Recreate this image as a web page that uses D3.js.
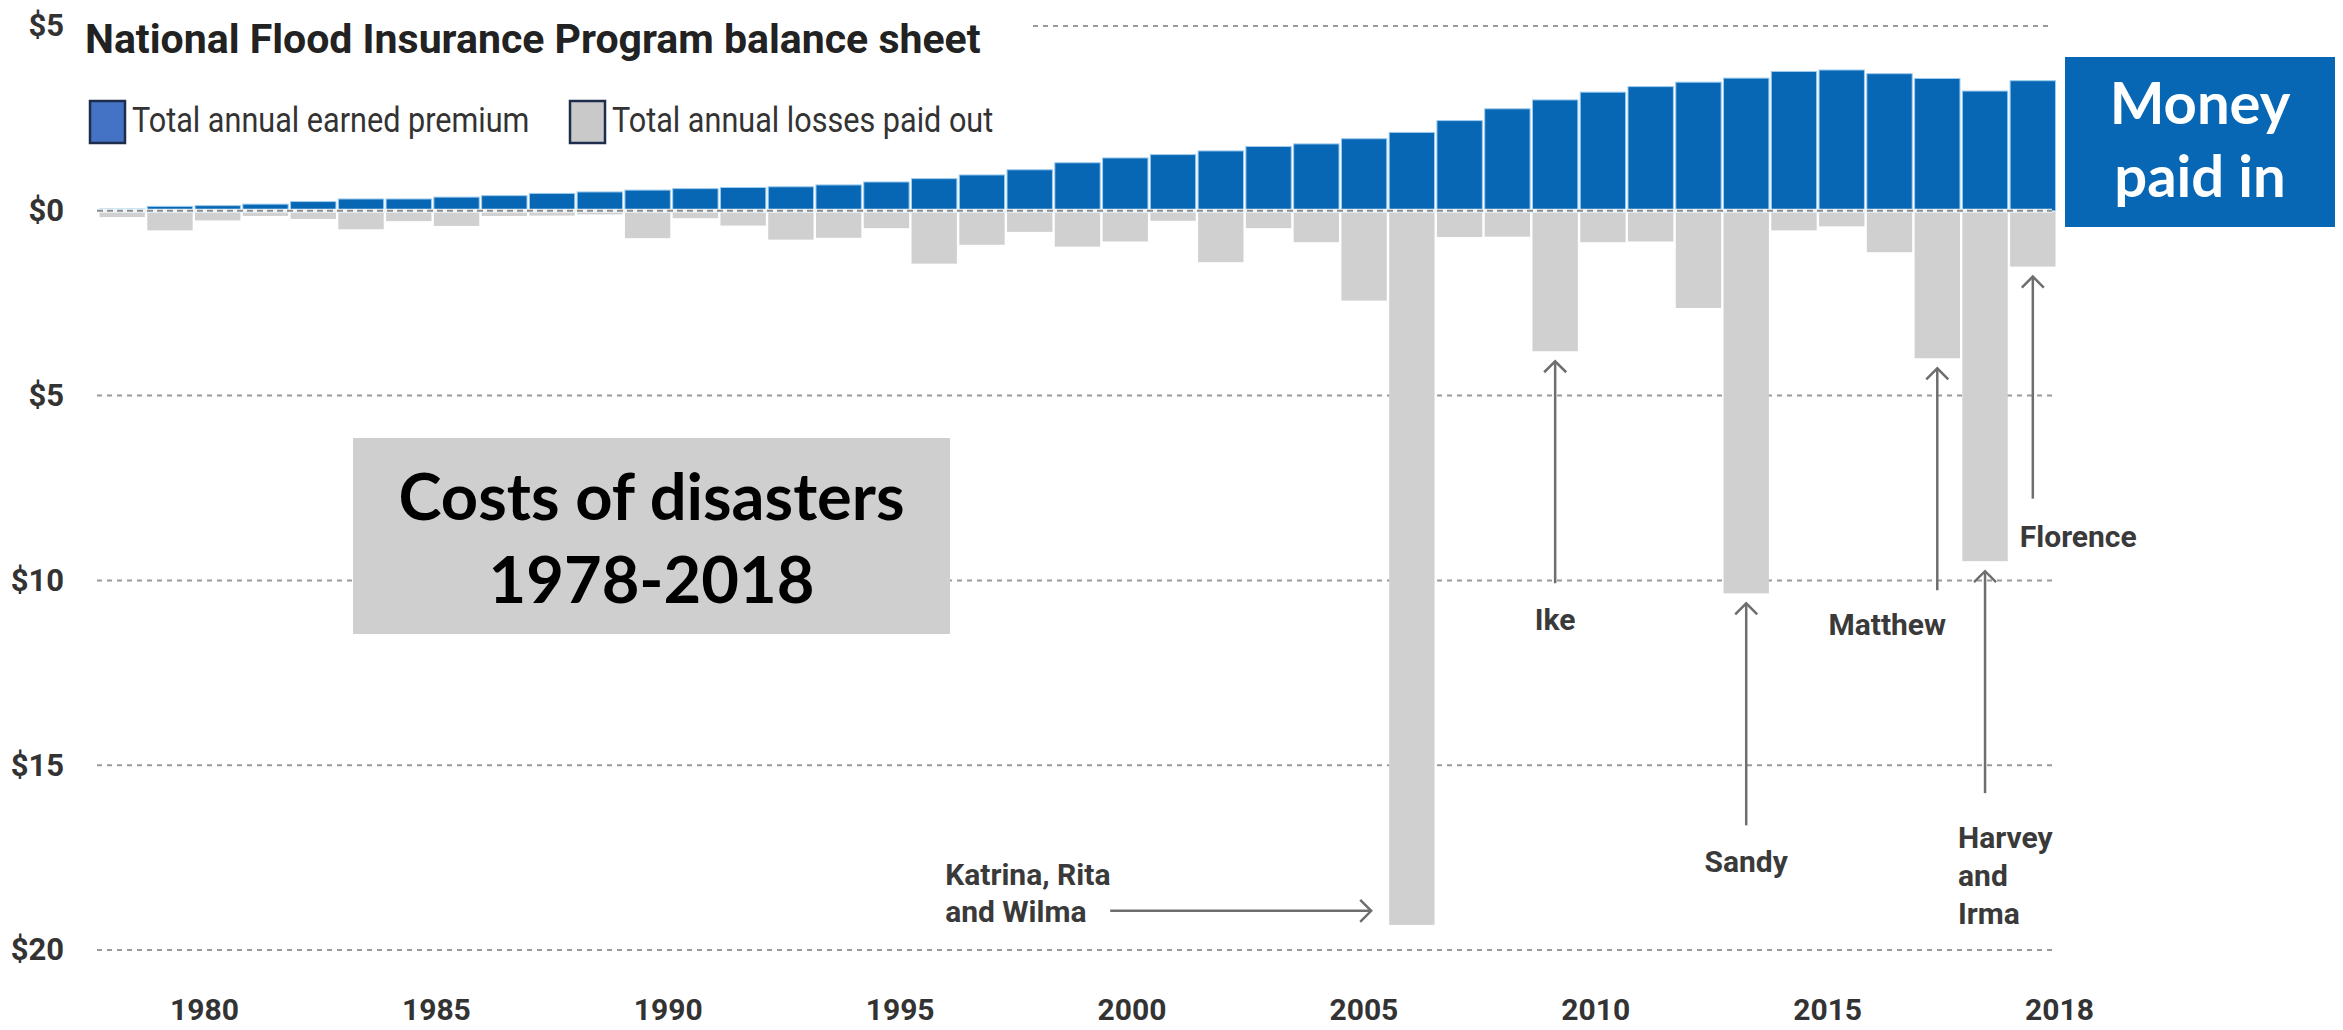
<!DOCTYPE html>
<html>
<head>
<meta charset="utf-8">
<script src="https://cdn.jsdelivr.net/npm/d3@7"></script>
<style>
  html, body { margin: 0; padding: 0; background: #fff; }
  svg { display: block; }
</style>
</head>
<body>
<div id="chart"></div>
<script>
// NFIP balance sheet, billions of dollars per year
const years = [1978, 1979, 1980, 1981, 1982, 1983, 1984, 1985, 1986, 1987,
  1988, 1989, 1990, 1991, 1992, 1993, 1994, 1995, 1996, 1997,
  1998, 1999, 2000, 2001, 2002, 2003, 2004, 2005, 2006, 2007,
  2008, 2009, 2010, 2011, 2012, 2013, 2014, 2015, 2016, 2017, 2018];

const premiums = [0.05, 0.12, 0.14, 0.18, 0.25, 0.32, 0.32, 0.37, 0.41, 0.47,
  0.51, 0.56, 0.60, 0.63, 0.65, 0.70, 0.78, 0.87, 0.97, 1.11,
  1.30, 1.43, 1.52, 1.62, 1.74, 1.81, 1.95, 2.12, 2.44, 2.76,
  3.00, 3.21, 3.36, 3.48, 3.59, 3.77, 3.81, 3.71, 3.58, 3.24, 3.52];

const losses = [0.17, 0.53, 0.26, 0.14, 0.22, 0.50, 0.28, 0.41, 0.14, 0.13,
  0.10, 0.74, 0.20, 0.40, 0.78, 0.73, 0.47, 1.43, 0.92, 0.57,
  0.97, 0.83, 0.27, 1.39, 0.47, 0.85, 2.43, 19.32, 0.71, 0.70,
  3.80, 0.85, 0.83, 2.63, 10.35, 0.53, 0.42, 1.12, 3.99, 9.48, 1.51];

const yTicks = [5, 0, -5, -10, -15, -20];
const yearLabels = ['1980', '1985', '1990', '1995', '2000', '2005', '2010', '2015', '2018'];

const storms = [
  { year: 2005, lines: ['Katrina, Rita', 'and Wilma'] },
  { year: 2008, lines: ['Ike'] },
  { year: 2012, lines: ['Sandy'] },
  { year: 2016, lines: ['Matthew'] },
  { year: 2017, lines: ['Harvey', 'and', 'Irma'] },
  { year: 2018, lines: ['Florence'] }
];

const width = 2343;
const height = 1030;
const blue = '#0767b4';
const grey = '#d0d0d0';
const arrowColor = '#6e6e6e';
const textColor = '#333';

const svg = d3.select('#chart')
  .append('svg')
  .attr('width', width)
  .attr('height', height)
  .style('background-color', '#fff');

const x = d3.scaleBand()
  .domain(years)
  .range([99.5, 2055.5])
  .paddingInner(0.05);

const y = d3.scaleLinear()
  .domain([5, -20])
  .range([26, 950]);

const xLabel = d3.scalePoint()
  .domain(yearLabels)
  .range([204, 2059]);

// gridlines
svg.append('g')
  .selectAll('line')
  .data(yTicks.filter(d => d !== 0))
  .enter()
  .append('line')
  .attr('x1', d => d === 5 ? 1033 : 97)
  .attr('x2', 2052)
  .attr('y1', d => y(d))
  .attr('y2', d => y(d))
  .attr('stroke', '#9a9a9a')
  .attr('stroke-width', 2)
  .attr('stroke-dasharray', '5,5');

// y labels
const yAxis = svg.append('g')
  .attr('transform', 'translate(64,0)')
  .call(d3.axisLeft(y).tickValues(yTicks).tickSize(0).tickPadding(0)
    .tickFormat(d => '$' + Math.abs(d)));
yAxis.select('.domain').remove();
yAxis.selectAll('text')
  .attr('font-family', 'Roboto, sans-serif')
  .attr('font-weight', 700)
  .attr('font-size', 31)
  .attr('fill', textColor);

// x labels
const xAxis = svg.append('g')
  .attr('transform', 'translate(0,1020)')
  .call(d3.axisBottom(xLabel).tickSize(0).tickPadding(0));
xAxis.select('.domain').remove();
xAxis.selectAll('text')
  .attr('dy', null)
  .attr('font-family', 'Roboto, sans-serif')
  .attr('font-weight', 700)
  .attr('font-size', 30)
  .attr('fill', textColor);

// bars
svg.append('g')
  .selectAll('rect')
  .data(years)
  .enter()
  .append('rect')
  .attr('x', d => x(d))
  .attr('y', (d, i) => y(premiums[i]))
  .attr('width', x.bandwidth())
  .attr('height', (d, i) => y(0) - y(premiums[i]))
  .attr('fill', blue)
  .attr('stroke', '#9ccbef')
  .attr('stroke-width', 1);

svg.append('g')
  .selectAll('rect')
  .data(years)
  .enter()
  .append('rect')
  .attr('x', d => x(d))
  .attr('y', y(0) + 1)
  .attr('width', x.bandwidth())
  .attr('height', (d, i) => y(-losses[i]) - y(0) - 1)
  .attr('fill', grey);

// zero line on top of the bars
svg.append('line')
  .attr('x1', 97).attr('x2', 2052)
  .attr('y1', y(0)).attr('y2', y(0))
  .attr('stroke', '#eef5fb')
  .attr('stroke-width', 4);
svg.append('line')
  .attr('x1', 97).attr('x2', 2052)
  .attr('y1', y(0)).attr('y2', y(0))
  .attr('stroke', '#8d8d8d')
  .attr('stroke-width', 2)
  .attr('stroke-dasharray', '6,4');

// title + legend
svg.append('text')
  .attr('x', 85)
  .attr('y', 53)
  .attr('font-family', 'Roboto, sans-serif')
  .attr('font-weight', 700)
  .attr('font-size', 41)
  .attr('fill', '#222')
  .text('National Flood Insurance Program balance sheet');

const legend = [
  { label: 'Total annual earned premium', color: '#4472c4', x: 90 },
  { label: 'Total annual losses paid out', color: '#c9c9c9', x: 570 }
];
const lg = svg.append('g')
  .selectAll('g')
  .data(legend)
  .enter()
  .append('g')
  .attr('transform', d => `translate(${d.x},101)`);
lg.append('rect')
  .attr('width', 35)
  .attr('height', 42)
  .attr('fill', d => d.color)
  .attr('stroke', '#1f2d4d')
  .attr('stroke-width', 2.5);
lg.append('text')
  .attr('transform', 'translate(42,31) scale(0.85,1)')
  .attr('font-family', 'Roboto, sans-serif')
  .attr('font-size', 36)
  .attr('fill', textColor)
  .text(d => d.label);

// storm annotations
const ann = svg.append('g')
  .attr('font-family', 'Roboto, sans-serif')
  .attr('font-weight', 700)
  .attr('font-size', 30)
  .attr('fill', '#3a3a3a');

function chevron(g, tx, ty, dir) {
  const s = 11;
  const p = dir === 'up'
    ? `M${tx - s},${ty + s}L${tx},${ty}L${tx + s},${ty + s}`
    : `M${tx - s},${ty - s}L${tx},${ty}L${tx - s},${ty + s}`;
  g.append('path')
    .attr('d', p)
    .attr('fill', 'none')
    .attr('stroke', arrowColor)
    .attr('stroke-width', 2.5);
}

storms.forEach(s => {
  const i = years.indexOf(s.year);
  const cx = x(s.year) + x.bandwidth() / 2;
  const bottom = y(-losses[i]);

  if (s.year === 2005) {
    const ay = bottom - 14;
    const tip = x(s.year) - 18;
    const tail = tip - 261;
    ann.append('line')
      .attr('x1', tail).attr('x2', tip)
      .attr('y1', ay).attr('y2', ay)
      .attr('stroke', arrowColor).attr('stroke-width', 2.5);
    chevron(ann, tip, ay, 'right');
    s.lines.forEach((t, k) => {
      ann.append('text')
        .attr('x', tail - 165)
        .attr('y', ay - 37 + k * 37)
        .attr('dy', '0.36em')
        .text(t);
    });
    return;
  }

  const tip = bottom + 10;
  const tail = tip + 222;
  ann.append('line')
    .attr('x1', cx).attr('x2', cx)
    .attr('y1', tail).attr('y2', tip)
    .attr('stroke', arrowColor).attr('stroke-width', 2.5);
  chevron(ann, cx, tip, 'up');

  let tx = cx, anchor = 'middle', ty = tail + 36;
  if (s.year === 2016) { tx = cx - 50; ty = tail + 34; }
  if (s.year === 2017) { tx = cx - 27; anchor = 'start'; ty = tail + 44; }
  if (s.year === 2018) { tx = cx - 13; anchor = 'start'; ty = tail + 38; }

  s.lines.forEach((t, k) => {
    ann.append('text')
      .attr('x', tx)
      .attr('y', ty + k * 38)
      .attr('dy', '0.36em')
      .attr('text-anchor', anchor)
      .text(t);
  });
});

// call-out boxes
svg.append('rect')
  .attr('x', 353).attr('y', 438)
  .attr('width', 597).attr('height', 196)
  .attr('fill', '#cfcfcf');
svg.append('g')
  .selectAll('text')
  .data(['Costs of disasters', '1978-2018'])
  .enter()
  .append('text')
  .attr('x', 651.5)
  .attr('y', (d, k) => 520 + k * 83)
  .attr('text-anchor', 'middle')
  .attr('font-family', 'Lato, "Open Sans", sans-serif')
  .attr('font-weight', 700)
  .attr('font-size', 65)
  .attr('fill', '#000')
  .text(d => d);

svg.append('rect')
  .attr('x', 2065).attr('y', 57)
  .attr('width', 270).attr('height', 170)
  .attr('fill', blue);
svg.append('g')
  .selectAll('text')
  .data(['Money', 'paid in'])
  .enter()
  .append('text')
  .attr('x', 2200)
  .attr('y', (d, k) => 124 + k * 73)
  .attr('text-anchor', 'middle')
  .attr('font-family', 'Lato, "Open Sans", sans-serif')
  .attr('font-weight', 700)
  .attr('font-size', 58)
  .attr('fill', '#fff')
  .text(d => d);
</script>
</body>
</html>
